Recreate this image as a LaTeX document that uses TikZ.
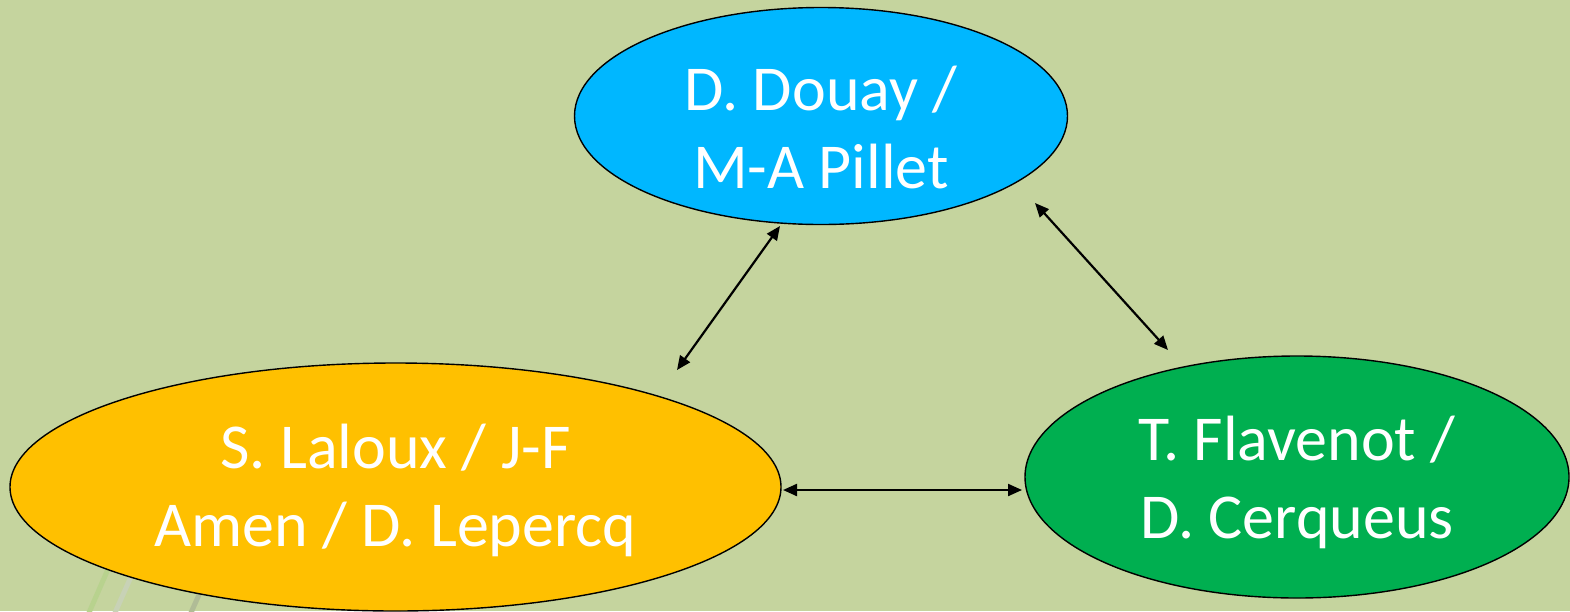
\documentclass[tikz,border=0pt]{standalone}
\usepackage{fontspec}
\setmainfont{Carlito}
\usetikzlibrary{shapes.geometric,arrows.meta}
\definecolor{bg}{RGB}{197,212,158}
\definecolor{cblue}{RGB}{0,183,255}
\definecolor{cyellow}{RGB}{255,192,0}
\definecolor{cgreen}{RGB}{0,175,80}
\definecolor{deco1}{RGB}{184,210,142}
\definecolor{deco2}{RGB}{200,210,182}
\definecolor{deco3}{RGB}{176,188,150}
\newcommand\padtop[2]{\raisebox{0pt}[\dimexpr\height+#1\relax][\depth]{#2}}
\tikzset{
  person/.style={ellipse, draw=black, line width=1.4pt, inner sep=0pt, text=white,
    font=\fontsize{64}{78}\selectfont, align=center},
  link/.style={black, line width=2.2pt, {Triangle[length=14pt,width=12pt]}-{Triangle[length=14pt,width=12pt]}}
}
\begin{document}
\begin{tikzpicture}[x=1pt,y=-1pt]
\fill[bg] (0,0) rectangle (1570,611);
\useasboundingbox (0,0) rectangle (1570,611);
\draw[line width=5pt, color=deco1] (88,615) -- (112,560);
\draw[line width=5pt, color=deco2] (114,615) -- (134,570);
\draw[line width=5pt, color=deco3] (190,615) -- (202,588);
\node[person, fill=cblue, minimum width=493pt, minimum height=217pt] (douay) at (821,116) {\padtop{24pt}{D. Douay /}\\M-A Pillet};
\node[person, fill=cyellow, minimum width=771pt, minimum height=248pt] (laloux) at (395.5,487) {\padtop{6pt}{S. Laloux / J-F}\\Amen / D. Lepercq};
\node[person, fill=cgreen, minimum width=544pt, minimum height=242pt] (flavenot) at (1297,477) {\padtop{10pt}{T. Flavenot /}\\D. Cerqueus};
\coordinate (a1) at (780,226);
\coordinate (a2) at (677,370);
\coordinate (b1) at (1035,203);
\coordinate (b2) at (1168,350);
\coordinate (c1) at (783,490);
\coordinate (c2) at (1022,490);
\draw[link] (a1) -- (a2);
\draw[link] (b1) -- (b2);
\draw[link] (c1) -- (c2);
\end{tikzpicture}
\end{document}
